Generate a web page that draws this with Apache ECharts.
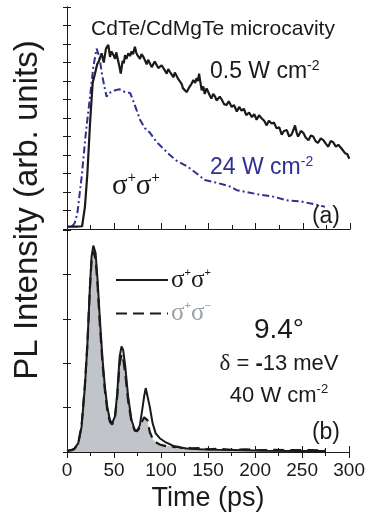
<!DOCTYPE html>
<html>
<head>
<meta charset="utf-8">
<script src="https://cdn.jsdelivr.net/npm/echarts@6/dist/echarts.min.js"></script>
<style>
  html, body { margin: 0; padding: 0; background: #fff; }
  #chart { width: 368px; height: 517px; }
</style>
</head>
<body>
<div id="chart"></div>
<script>
// panel (a): time (ps), intensity (arb.)
const lowPower = [
  [0, 0.13], [5, 0.13], [10, 0.13], [16, 0.15], [19, 1.2], [21.6, 3.0], [24.4, 5.7], [27.2, 7.9],
  [29.7, 8.4], [32, 8.9], [34, 9.1], [36.7, 9.5], [39, 9.0], [41.3, 9.75], [43.8, 9.95], [45.6, 9.3],
  [47, 9.6], [48.4, 9.7], [49.8, 9.35], [51, 9.2], [52.2, 9.55], [53.4, 9.5], [55.5, 8.8], [57, 8.4],
  [59, 9.1], [60.2, 8.95], [61.5, 9.4], [63, 9.2], [65, 9.5], [66.8, 9.35], [68.5, 9.6], [70, 9.45],
  [72, 9.85], [73.3, 9.55], [74.6, 9.4], [76, 9.5], [77.4, 9.2], [79, 9.45], [81, 9.3], [82.8, 9.1],
  [84.5, 8.9], [86, 9.15], [88, 9.05], [89.8, 8.75], [91.5, 8.8], [93, 9.05], [95, 8.95], [96.8, 8.7],
  [98.6, 8.6], [100.3, 8.85], [102, 8.9], [104, 8.55], [105.7, 8.4], [107.3, 8.65], [109, 8.5], [111, 8.35],
  [112.7, 8.2], [114.3, 8.45], [116, 8.3], [118, 8.1], [120, 8.05], [121.5, 7.85], [123, 7.6], [125, 7.65],
  [127, 7.4], [128.5, 7.55], [130, 7.7], [132, 7.85], [134, 8.05], [135.8, 7.9], [137.5, 8.15], [138.8, 8.0],
  [140, 8.4], [141.5, 7.9], [142.8, 7.5], [144.5, 7.7], [146, 7.3], [148, 7.6], [150, 7.5], [151.5, 7.2],
  [153, 7.05], [155, 7.3], [157, 7.15], [158.5, 6.95], [160, 6.9], [162, 7.15], [164, 7.0], [166.5, 6.75],
  [169, 6.7], [171.5, 6.9], [174.6, 6.6], [177, 6.7], [180, 6.35], [182.5, 6.6], [185, 6.4], [187.5, 6.5],
  [190, 6.15], [193, 6.3], [196, 6.05], [198.5, 6.2], [201, 5.9], [203.5, 6.15], [206, 6.0], [209, 5.85],
  [211.7, 5.6], [214, 5.85], [217, 5.7], [219.5, 5.75], [222, 5.45], [225, 5.5], [227.6, 5.1], [230, 5.3],
  [233, 5.35], [235.5, 5.0], [238, 5.1], [240, 5.35], [241.7, 5.6], [243.5, 5.2], [245, 5.0], [248, 5.3],
  [250.5, 5.2], [253, 4.95], [256, 4.8], [258.5, 5.05], [261, 5.0], [263.5, 4.75], [266, 4.65], [269, 4.9],
  [271.7, 4.8], [274.5, 4.6], [277, 4.45], [279.5, 4.75], [282, 4.7], [285, 4.45], [287.6, 4.55], [289.5, 4.6],
  [291, 4.35], [293, 4.3], [294.7, 4.1], [297, 4.05], [299.3, 3.8]
];
const highPower = [
  [5, 0.13], [8, 0.3], [11, 0.85], [15.5, 2.8], [20, 5.2], [24.4, 7.15], [28, 8.8], [31.4, 9.75],
  [32.5, 9.85], [34.3, 9.3], [36.7, 8.5], [39.2, 7.8], [42, 7.15], [43.8, 7.35], [47.3, 7.4], [51, 7.5],
  [56, 7.55], [61.5, 7.4], [67, 7.35], [70, 6.95], [74, 6.4], [77.4, 5.9], [82.7, 5.45], [88, 5.2],
  [95, 4.7], [102, 4.35], [109, 4.0], [116, 3.7], [127, 3.4], [137.5, 3.0], [146, 2.65], [158.7, 2.5],
  [172.8, 2.3], [180, 2.1], [190, 2.0], [204.6, 1.85], [218.7, 1.75], [233, 1.55], [247, 1.5], [261, 1.35],
  [273.5, 1.2]
];
// panel (b)
const coPol = [
  [0, 0.03], [5, 0.05], [8, 0.08], [12, 0.2], [15.5, 0.57], [19, 1.47], [21.6, 2.38], [24.4, 3.73],
  [26.1, 4.4], [28, 4.65], [30.4, 4.48], [32.5, 3.88], [35, 2.98], [37.8, 2.08], [40.3, 1.47], [42.8, 1.02],
  [45.6, 0.72], [48, 0.65], [51, 0.8], [53.4, 1.32], [56, 2.15], [58, 2.38], [59.7, 2.3], [62, 1.92],
  [65, 1.25], [68.6, 0.72], [72, 0.5], [74.6, 0.48], [77.4, 0.6], [80, 0.95], [82, 1.25], [83.7, 1.44],
  [85.5, 1.4], [88, 1.02], [91, 0.65], [94.3, 0.42], [98.6, 0.31], [104, 0.23], [107, 0.2], [109, 0.16],
  [112, 0.15], [116, 0.12], [121, 0.1], [127, 0.08], [141, 0.06], [160, 0.05], [176, 0.045], [212, 0.03],
  [247, 0.02], [275, 0.02]
];
const crossPol = [
  [0, 0.02], [5, 0.04], [8, 0.07], [12, 0.2], [15.5, 0.6], [19, 1.5], [21.6, 2.4], [24.4, 3.7],
  [26.1, 4.3], [28, 4.52], [30.4, 4.35], [32.5, 3.75], [35, 2.85], [37.8, 1.98], [40.3, 1.38], [42.8, 0.95],
  [45.6, 0.68], [48, 0.62], [51, 0.78], [53.4, 1.25], [56, 2.0], [58, 2.2], [59.7, 2.12], [62, 1.75],
  [65, 1.15], [68.6, 0.68], [72, 0.48], [74.6, 0.47], [77.4, 0.55], [80, 0.7], [82, 0.78], [83.7, 0.8],
  [85.5, 0.72], [88, 0.45], [91, 0.3], [94.3, 0.22], [98.6, 0.17], [102, 0.15], [106, 0.13], [110, 0.14],
  [114, 0.11], [118, 0.12], [122, 0.09], [127, 0.1], [132, 0.08], [140, 0.09], [150, 0.06], [160, 0.07],
  [175, 0.05], [190, 0.06], [205, 0.04], [220, 0.05], [240, 0.04], [260, 0.04], [275, 0.03]
];
const timeTicks = [0, 50, 100, 150, 200, 250, 300];

const sans = 'Liberation Sans, Arial, sans-serif';
const serif = 'Liberation Serif, Times New Roman, serif';
const ink = '#1a1a1a';
const blue = '#2e3192';
const grey = '#9aa1a7';

const axisLine = { show: true, lineStyle: { color: ink, width: 1 } };
const xBase = (grid, pos, ticks, labels) => ({
  type: 'value', gridIndex: grid, position: pos, min: 0, max: 300, interval: 50,
  axisLine: axisLine,
  axisTick: { show: ticks, inside: true, length: 6, lineStyle: { color: ink } },
  minorTick: { show: ticks, splitNumber: 2, length: 4, lineStyle: { color: ink } },
  axisLabel: labels ? {
    show: true, margin: 9, color: ink, fontFamily: sans, fontSize: 19,
    formatter: v => timeTicks.includes(v) ? String(v) : ''
  } : { show: false },
  splitLine: { show: false }
});
const yBase = (grid, pos, max) => ({
  type: 'value', gridIndex: grid, position: pos, min: 0, max: max, interval: 1,
  axisLine: axisLine,
  axisTick: { show: true, inside: true, length: 4, lineStyle: { color: ink } },
  axisLabel: { show: false },
  splitLine: { show: false }
});

const chart = echarts.init(document.getElementById('chart'));
chart.setOption({
  animation: false,
  backgroundColor: '#fff',
  grid: [
    { left: 67, right: 18, top: 7, height: 222 },
    { left: 67, right: 18, top: 230, height: 222 }
  ],
  xAxis: [
    xBase(0, 'bottom', true, false),
    xBase(0, 'top', false, false),
    xBase(1, 'top', true, false),
    Object.assign(xBase(1, 'bottom', true, true), {
      name: 'Time (ps)', nameLocation: 'middle', nameGap: 33,
      nameTextStyle: { color: ink, fontFamily: sans, fontSize: 27 }
    })
  ],
  yAxis: [
    yBase(0, 'left', 12),
    yBase(0, 'right', 12),
    yBase(1, 'left', 5),
    yBase(1, 'right', 5)
  ],
  legend: {
    data: ['pp', 'pm'],
    orient: 'vertical',
    left: 110, top: 262,
    itemWidth: 52, itemHeight: 14, itemGap: 8,
    itemStyle: { opacity: 0 },
    formatter: name => name === 'pp'
      ? '{g|σ}{s|+}{g|σ}{s|+}'
      : '{h|σ}{t|+}{h|σ}{t|−}',
    textStyle: {
      padding: [0, 0, 0, -2],
      rich: {
        g: { fontFamily: serif, fontSize: 25, color: ink, lineHeight: 26 },
        s: { fontFamily: sans, fontSize: 11, color: ink, verticalAlign: 'top', lineHeight: 12 },
        h: { fontFamily: serif, fontSize: 25, color: grey, lineHeight: 26 },
        t: { fontFamily: sans, fontSize: 11, color: grey, verticalAlign: 'top', lineHeight: 12 }
      }
    }
  },
  series: [
    {
      name: 'high', type: 'line', xAxisIndex: 0, yAxisIndex: 0, data: highPower,
      symbol: 'none', lineStyle: { color: blue, width: 2, type: [7, 3, 2, 3] }, z: 2
    },
    {
      name: 'low', type: 'line', xAxisIndex: 0, yAxisIndex: 0, data: lowPower,
      symbol: 'none', lineStyle: { color: ink, width: 2.2 }, z: 3
    },
    {
      name: 'pm', type: 'line', xAxisIndex: 3, yAxisIndex: 2, data: crossPol,
      symbol: 'none', itemStyle: { color: ink },
      lineStyle: { color: ink, width: 2.2, type: [11, 6] },
      areaStyle: { color: '#c1c5ca', opacity: 1 }, z: 2
    },
    {
      name: 'pp', type: 'line', xAxisIndex: 3, yAxisIndex: 2, data: coPol,
      symbol: 'none', itemStyle: { color: ink },
      lineStyle: { color: ink, width: 2 }, z: 3
    }
  ],
  graphic: [
    {
      type: 'text', x: 28, y: 210, rotation: Math.PI / 2,
      style: { text: 'PL Intensity (arb. units)', fill: ink, font: '33px ' + sans, align: 'center', verticalAlign: 'middle' }
    },
    {
      type: 'text', x: 213, y: 29,
      style: { text: 'CdTe/CdMgTe microcavity', fill: ink, font: '21px ' + sans, align: 'center', verticalAlign: 'middle' }
    },
    {
      type: 'text', x: 210, y: 72,
      style: {
        text: '{m|0.5 W cm}{s|-2}', align: 'left', verticalAlign: 'middle',
        rich: {
          m: { fill: ink, fontFamily: sans, fontSize: 23, lineHeight: 26 },
          s: { fill: ink, fontFamily: sans, fontSize: 14, verticalAlign: 'top', lineHeight: 14 }
        }
      }
    },
    {
      type: 'text', x: 210, y: 168,
      style: {
        text: '{m|24 W cm}{s|-2}', align: 'left', verticalAlign: 'middle',
        rich: {
          m: { fill: blue, fontFamily: sans, fontSize: 23, lineHeight: 26 },
          s: { fill: blue, fontFamily: sans, fontSize: 14, verticalAlign: 'top', lineHeight: 14 }
        }
      }
    },
    {
      type: 'text', x: 112, y: 186,
      style: {
        text: '{g|σ}{s|+}{g|σ}{s|+}', align: 'left', verticalAlign: 'middle',
        rich: {
          g: { fill: ink, fontFamily: serif, fontSize: 29, lineHeight: 30 },
          s: { fill: ink, fontFamily: sans, fontSize: 14, verticalAlign: 'top', lineHeight: 14 }
        }
      }
    },
    {
      type: 'text', x: 340, y: 217,
      style: { text: '(a)', fill: ink, font: '23px ' + sans, align: 'right', verticalAlign: 'middle' }
    },
    {
      type: 'text', x: 279, y: 330,
      style: { text: '9.4°', fill: ink, font: '28px ' + sans, align: 'center', verticalAlign: 'middle' }
    },
    {
      type: 'text', x: 279, y: 364,
      style: {
        text: '{d|δ}{m| = }{b|-}{m|13 meV}', align: 'center', verticalAlign: 'middle',
        rich: {
          d: { fill: ink, fontFamily: serif, fontSize: 23 },
          m: { fill: ink, fontFamily: sans, fontSize: 22 },
          b: { fill: ink, fontFamily: sans, fontSize: 22, fontWeight: 'bold' }
        }
      }
    },
    {
      type: 'text', x: 279, y: 396,
      style: {
        text: '{m|40 W cm}{s|-2}', align: 'center', verticalAlign: 'middle',
        rich: {
          m: { fill: ink, fontFamily: sans, fontSize: 22, lineHeight: 26 },
          s: { fill: ink, fontFamily: sans, fontSize: 13, verticalAlign: 'top', lineHeight: 14 }
        }
      }
    },
    {
      type: 'text', x: 340, y: 433,
      style: { text: '(b)', fill: ink, font: '23px ' + sans, align: 'right', verticalAlign: 'middle' }
    }
  ]
});
</script>
</body>
</html>
